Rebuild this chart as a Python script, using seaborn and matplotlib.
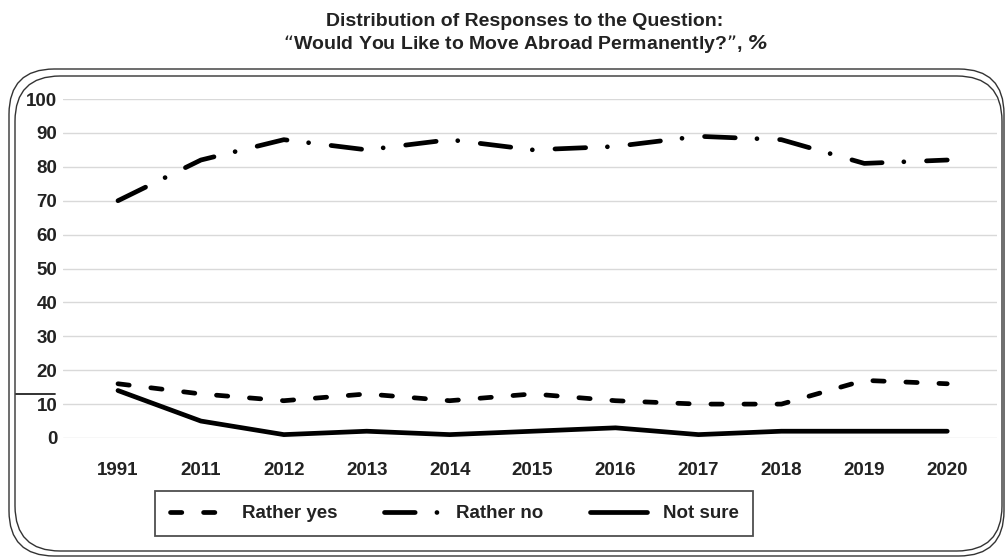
import matplotlib
matplotlib.use("Agg")
import matplotlib.pyplot as plt
from matplotlib.patches import FancyBboxPatch
from matplotlib.lines import Line2D
import seaborn as sns
import pandas as pd

# Survey years and shares of answers, %
years = ["1991", "2011", "2012", "2013", "2014", "2015", "2016", "2017", "2018", "2019", "2020"]
rather_yes = [16, 13, 11, 13, 11, 13, 11, 10, 10, 17, 16]
rather_no = [70, 82, 88, 85, 88, 85, 86, 89, 88, 81, 82]
not_sure = [14, 5, 1, 2, 1, 2, 3, 1, 2, 2, 2]
series_names = ["Rather yes", "Rather no", "Not sure"]
y_ticks = [0, 10, 20, 30, 40, 50, 60, 70, 80, 90, 100]

sns.set_theme(style="white")
plt.rcParams["font.family"] = ["Liberation Sans", "DejaVu Sans"]

df = pd.DataFrame({"Year": years, series_names[0]: rather_yes,
                   series_names[1]: rather_no, series_names[2]: not_sure})
long = df.melt(id_vars="Year", var_name="Answer", value_name="Share")
long["x"] = long["Year"].map({y: i for i, y in enumerate(years)})

W, H = 1005, 558
TXT = "#222222"
LW = 3.4
fig = plt.figure(figsize=(W / 100, H / 100), dpi=100)

# Rounded double frame around the chart body
for (x0, y0, x1, y1) in [(9, 69, 1004, 556), (15, 76, 1002, 551)]:
    fig.patches.append(FancyBboxPatch(
        (x0 / W, 1 - y1 / H), (x1 - x0) / W, (y1 - y0) / H,
        boxstyle="round,pad=0,rounding_size=0.045", transform=fig.transFigure,
        facecolor="none", edgecolor="#333333", linewidth=1.0, mutation_aspect=W / H))
fig.lines.append(Line2D([16 / W, 55 / W], [1 - 394 / H, 1 - 394 / H],
                        transform=fig.transFigure, color=TXT, linewidth=1.3))

ax = fig.add_axes([63 / W, 1 - 438 / H, (997 - 63) / W, (438 - 99) / H])

styles = {
    "Rather yes": (0, (2.4, 4.6)),
    "Rather no": (0, (6.5, 4.6, 0.01, 4.8)),
    "Not sure": "-",
}
for name in series_names:
    sub = long[long["Answer"] == name]
    sns.lineplot(data=sub, x="x", y="Share", ax=ax, color="black", linewidth=LW,
                 linestyle=styles[name], legend=False)
for ln in ax.get_lines():
    ln.set_dash_capstyle("round")
    ln.set_solid_capstyle("round")
    ln.set_solid_joinstyle("round")

ax.set_xlim(-0.663, 10.60)
ax.set_ylim(0, 100)
ax.set_yticks(y_ticks)
ax.set_yticklabels([str(v) for v in y_ticks], fontsize=13.5, fontweight="bold", color=TXT)
ax.set_xticks(range(len(years)))
ax.set_xticklabels(years, fontsize=13.5, fontweight="bold", color=TXT)
ax.tick_params(axis="both", length=0)
ax.tick_params(axis="x", pad=17)
ax.tick_params(axis="y", pad=4)
ax.grid(axis="y", color="#d9d9d9", linewidth=1.0)
ax.set_axisbelow(True)
for s in ax.spines.values():
    s.set_visible(False)
ax.set_xlabel("")
ax.set_ylabel("")
ax.patch.set_alpha(0)

handles = [Line2D([], [], color="black", linewidth=LW, linestyle=styles[n],
                  dash_capstyle="round", solid_capstyle="round") for n in series_names]
leg = fig.legend(handles, series_names, loc="center",
                 bbox_to_anchor=(454 / W, 1 - 513.5 / H), ncol=3, frameon=True,
                 fancybox=False, handlelength=3.0, columnspacing=2.5, handletextpad=0.85,
                 prop={"weight": "bold", "size": 13.5, "family": "Liberation Sans"},
                 borderpad=0.75)
leg.get_frame().set_edgecolor(TXT)
leg.get_frame().set_linewidth(1.3)
for t in leg.get_texts():
    t.set_color(TXT)

fig.text(525 / W, 1 - 21 / H, "Distribution of Responses to the Question:",
         ha="center", va="center", fontsize=14, fontweight="bold", color=TXT)
fig.text(525 / W, 1 - 44 / H,
         "\u201cWould You Like to Move Abroad Permanently?\u201d, $\\mathbfit{\\%}$",
         ha="center", va="center", fontsize=14, fontweight="bold", color=TXT)

fig.savefig("out.png", dpi=100, facecolor="white")
